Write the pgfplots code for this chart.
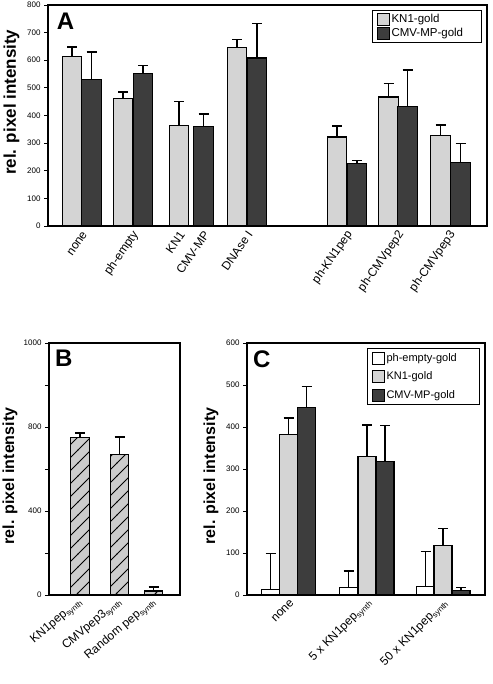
\documentclass[border=0pt]{standalone}
\usepackage{fontspec}
\setmainfont{Liberation Sans}
\usepackage{pgfplots}
\pgfplotsset{compat=1.18}
\usetikzlibrary{patterns}
\pgfdeclarepatternformonly{widelines}{\pgfqpoint{-1pt}{-1pt}}{\pgfqpoint{14pt}{14pt}}{\pgfqpoint{13pt}{13pt}}{%
  \pgfsetlinewidth{0.9pt}%
  \pgfpathmoveto{\pgfqpoint{-0.5pt}{-0.5pt}}%
  \pgfpathlineto{\pgfqpoint{13.5pt}{13.5pt}}%
  \pgfusepath{stroke}}
\definecolor{lightbar}{gray}{0.83}
\definecolor{darkbar}{gray}{0.24}
\pgfplotsset{
  panel/.style={
    scale only axis, ybar, ymin=0,
    axis line style={line width=1.2pt},
    tick align=outside, ytick pos=left, xtick pos=bottom,
    major tick length=4pt, minor tick length=4pt,
    ytick style={line width=0.9pt, black},
    xtick style={draw=none},
    /pgf/number format/assume math mode=true,
    yticklabel style={font=\fontsize{8}{9}\selectfont},
    every axis y label/.style={rotate=90, anchor=south, font=\fontsize{16}{18}\selectfont\bfseries},
    error bars/y dir=plus, error bars/y explicit,
    error bars/error bar style={line width=1.4pt, black},
    error bars/error mark options={rotate=90, line width=1.4pt, black, mark size=5pt},
    legend image code/.code={\draw[#1, line width=0.8pt] (0pt,-6pt) rectangle (12pt,6pt);},
    legend cell align=left,
  },
  kn/.style={fill=lightbar, draw=black, line width=1.1pt, bar shift=0pt},
  cmv/.style={fill=darkbar, draw=black, line width=1.1pt, bar shift=0pt},
  phe/.style={fill=white, draw=black, line width=1.1pt, bar shift=0pt},
}
\begin{document}
\begin{tikzpicture}[x=1pt,y=1pt]
\useasboundingbox (0,0) rectangle (492,684);
% ---------------- Panel A
\begin{axis}[panel, at={(48pt,458pt)}, anchor=south west,
  width=439pt, height=221pt, xmin=48, xmax=487, ymax=800,
  ytick={0,100,...,800}, bar width=19.5,
  ylabel={rel. pixel intensity},
  ylabel style={at={(axis description cs:-0.057,0.56)}, font=\fontsize{17}{19}\selectfont\bfseries},
  xtick={82,133,179,203.5,247,347,398.5,450},
  xticklabels={none,ph-empty,KN1,CMV-MP,DNAse I,ph-KN1pep,ph-CMVpep2,ph-CMVpep3},
  xticklabel style={rotate=55, anchor=east, font=\fontsize{12}{14}\selectfont, yshift=-4pt, xshift=3pt},
  legend style={at={(1,1)}, anchor=north east, xshift=-5pt, yshift=-5pt,
    draw=black, line width=0.9pt, font=\fontsize{11.5}{13}\selectfont, row sep=0pt, inner xsep=4pt, inner ysep=2pt,
    /tikz/every even column/.append style={text width=84pt}},
]
\addplot[kn] coordinates {(72,615) +- (0,33) (123,461) +- (0,24) (179,364) +- (0,87)
  (237,647) +- (0,28) (337,322) +- (0,40) (388.5,467) +- (0,48) (440.5,328) +- (0,37)};
\addlegendentry{KN1-gold}
\addplot[cmv] coordinates {(91.5,530) +- (0,100) (143,552) +- (0,30) (203.5,359) +- (0,47)
  (257,608) +- (0,126) (357,227) +- (0,11) (407.5,434) +- (0,130) (460.5,231) +- (0,68)};
\addlegendentry{CMV-MP-gold}
\node[anchor=north west, inner sep=0pt, font=\fontsize{24}{26}\selectfont\bfseries] at (rel axis cs:0.02,0.964) {A};
\end{axis}
% ---------------- Panel B
\begin{axis}[panel, at={(49pt,89pt)}, anchor=south west,
  width=131pt, height=252pt, xmin=49, xmax=180, ymax=1200,
  ytick={0,200,...,1200}, yticklabels={0,,400,,800,,1000}, bar width=18.5,
  ylabel={rel. pixel intensity},
  ylabel style={at={(axis description cs:-0.214,0.472)}},
  xtick={80,119.5,153.5},
  xticklabels={KN1pep\textsubscript{synth},CMVpep3\textsubscript{synth},Random pep\textsubscript{synth}},
  xticklabel style={rotate=40, anchor=east, font=\fontsize{12}{14}\selectfont, yshift=-2pt, xshift=3pt},
]
\addplot[fill=gray!40, draw=black, line width=1.1pt, bar shift=0pt,
  postaction={pattern=widelines}] coordinates {(80,752) +- (0,19) (119.5,667) +- (0,85) (153.5,19) +- (0,19)};
\node[anchor=north west, inner sep=0pt, font=\fontsize{24}{26}\selectfont\bfseries] at (rel axis cs:0.046,0.972) {B};
\end{axis}
% ---------------- Panel C
\begin{axis}[panel, at={(247pt,89pt)}, anchor=south west,
  width=238pt, height=252pt, xmin=247, xmax=485, ymax=600,
  ytick={0,100,...,600}, bar width=18,
  ylabel={rel. pixel intensity},
  ylabel style={at={(axis description cs:-0.105,0.472)}},
  xtick={289,367,443},
  xticklabels={none,5 x KN1pep\textsubscript{synth},50 x KN1pep\textsubscript{synth}},
  xticklabel style={rotate=45, anchor=east, font=\fontsize{12}{14}\selectfont, yshift=-4pt, xshift=4pt},
  legend style={at={(1,1)}, anchor=north east, xshift=-5pt, yshift=-5pt,
    draw=black, line width=0.9pt, font=\fontsize{11}{12}\selectfont, row sep=5pt, inner xsep=4pt, inner ysep=3pt,
    /tikz/every even column/.append style={text width=87pt}},
]
\addplot[phe] coordinates {(270.5,13) +- (0,86) (348.5,17) +- (0,40) (425.5,20) +- (0,83)};
\addlegendentry{ph-empty-gold}
\addplot[kn] coordinates {(288.5,383) +- (0,38) (367,329) +- (0,76) (443,118) +- (0,41)};
\addlegendentry{KN1-gold}
\addplot[cmv] coordinates {(306.5,447) +- (0,49) (385,317) +- (0,86) (461,10) +- (0,8)};
\addlegendentry{CMV-MP-gold}
\node[anchor=north west, inner sep=0pt, font=\fontsize{24}{26}\selectfont\bfseries] at (rel axis cs:0.025,0.972) {C};
\end{axis}
\end{tikzpicture}
\end{document}
